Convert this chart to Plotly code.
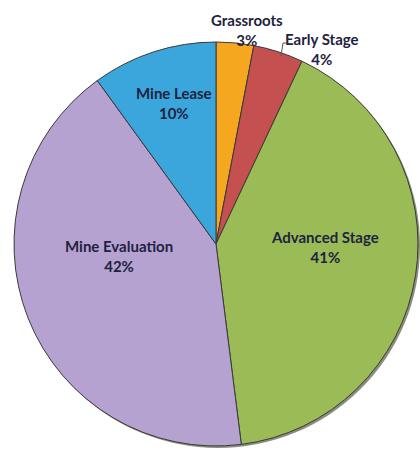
import plotly.graph_objects as go

# Share of projects by stage
stages = ["Grassroots", "Early Stage", "Advanced Stage", "Mine Evaluation", "Mine Lease"]
shares = [3, 4, 41, 42, 10]
colors = ["#F5A71F", "#C4504F", "#9BBB57", "#B6A2D0", "#3BA6DC"]

W, H = 420, 451
text_font = dict(family="Lato, 'Open Sans', sans-serif", size=15, color="#1E2340")

# pie geometry in pixels
cx, cy, r = 216, 244, 202

# label centres in pixels (x, y from top)
label_xy = [(247, 30), (322, 49), (325, 247), (119, 256), (174, 103)]


def px(x):
    return min(max(x / W, 0), 1)


def py(y):
    return min(max(1 - y / H, 0), 1)


fig = go.Figure()

# soft shadow beneath the pie
fig.add_trace(go.Pie(
    values=[1], labels=["shadow"], sort=False, textinfo="none",
    marker=dict(colors=["rgba(40,50,20,0.55)"], line=dict(width=0)),
    domain=dict(x=[px(cx - r + 2), px(cx + r + 2)], y=[py(cy + r + 2), py(cy - r + 2)]),
    hoverinfo="skip", showlegend=False,
))

fig.add_trace(go.Pie(
    labels=stages, values=shares, sort=False, direction="clockwise", rotation=0,
    marker=dict(colors=colors, line=dict(color="#3A3A3A", width=1)),
    textinfo="none",
    domain=dict(x=[px(cx - r), px(cx + r)], y=[py(cy + r), py(cy - r)]),
    showlegend=False,
))

# slice labels
for name, val, (x, y) in zip(stages, shares, label_xy):
    fig.add_annotation(
        x=px(x), y=py(y), xref="paper", yref="paper",
        xanchor="center", yanchor="middle",
        text=f"<b>{name}</b><br><b>{val}%</b>", showarrow=False,
        font=text_font, align="center",
    )

# leader line for Early Stage
fig.add_shape(type="path", xref="paper", yref="paper",
              path=f"M {px(286)} {py(43)} L {px(283)} {py(43)} L {px(281)} {py(56)}",
              line=dict(color="#555555", width=1))

fig.update_layout(
    width=W, height=H, margin=dict(l=0, r=0, t=0, b=0),
    paper_bgcolor="white", plot_bgcolor="white",
)

fig.write_html("out.html")
